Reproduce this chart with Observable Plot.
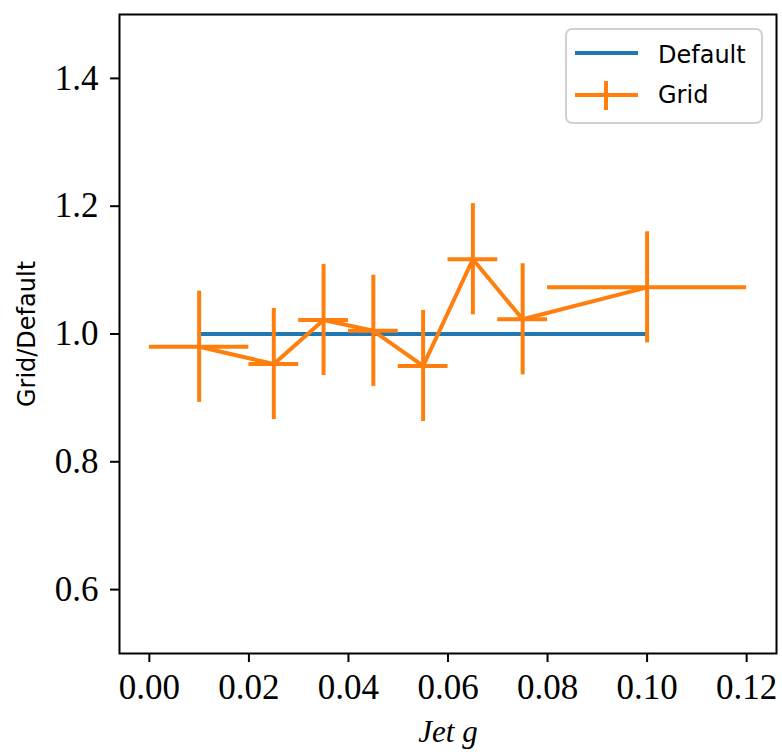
<!DOCTYPE html>
<html><head><meta charset="utf-8">
<script src="https://cdn.jsdelivr.net/npm/d3@7"></script>
<script src="https://cdn.jsdelivr.net/npm/@observablehq/plot@0.6"></script>
<style>
body{margin:0;background:#fff}
#chart{position:relative;width:782px;height:754px}
</style>
</head><body><div id="chart"></div>
<script>
// Grid / Default ratio vs Jet g
const gridX    = [0.01, 0.025, 0.035, 0.045, 0.055, 0.065, 0.075, 0.10];
const gridY    = [0.980, 0.953, 1.022, 1.005, 0.950, 1.117, 1.023, 1.073];
const gridXLo  = [0.00, 0.02, 0.03, 0.04, 0.05, 0.06, 0.07, 0.08];
const gridXHi  = [0.02, 0.03, 0.04, 0.05, 0.06, 0.07, 0.08, 0.12];
const gridYErr = [0.087, 0.087, 0.087, 0.087, 0.087, 0.087, 0.087, 0.087];
const defaultX = [0.01, 0.10];
const defaultY = [1.0, 1.0];
const xTicks = [0.00, 0.02, 0.04, 0.06, 0.08, 0.10, 0.12];
const yTicks = [0.6, 0.8, 1.0, 1.2, 1.4];
const seriesNames = ["Default", "Grid"];
const seriesColors = ["#1f77b4", "#ff7f0e"];

const grid = gridX.map((x, i) => ({x, y: gridY[i], x1: gridXLo[i], x2: gridXHi[i], y1: gridY[i] - gridYErr[i], y2: gridY[i] + gridYErr[i]}));
const def = defaultX.map((x, i) => ({x, y: defaultY[i]}));

const SERIF = "'Liberation Serif', 'Times New Roman', serif";
const SANS = "'DejaVu Sans', sans-serif";
const LW = 4;

const plot = Plot.plot({
  width: 782, height: 754,
  marginLeft: 119, marginRight: 6, marginTop: 14, marginBottom: 101,
  style: {fontFamily: SERIF, fontSize: "35px", color: "black", background: "white"},
  x: {domain: [-0.006, 0.126]},
  y: {domain: [0.5, 1.5]},
  marks: [
    Plot.axisX({ticks: xTicks, tickFormat: d => d.toFixed(2), tickSize: 9, tickPadding: 12, label: null, strokeWidth: 2}),
    Plot.axisY({ticks: yTicks, tickFormat: d => d.toFixed(1), tickSize: 9, tickPadding: 12, label: null, strokeWidth: 2}),
    Plot.line(def, {x: "x", y: "y", stroke: seriesColors[0], strokeWidth: LW}),
    Plot.line(grid, {x: "x", y: "y", stroke: seriesColors[1], strokeWidth: LW}),
    Plot.ruleX(grid, {x: "x", y1: "y1", y2: "y2", stroke: seriesColors[1], strokeWidth: LW}),
    Plot.ruleY(grid, {y: "y", x1: "x1", x2: "x2", stroke: seriesColors[1], strokeWidth: LW}),
    Plot.frame({stroke: "black", strokeWidth: 2}),
    Plot.text(["Jet g"], {frameAnchor: "bottom", dy: 88, fontStyle: "italic", fontFamily: SERIF, fontSize: 31, fill: "black"}),
    Plot.text(["Grid/Default"], {frameAnchor: "left", textAnchor: "middle", rotate: -90, dx: -92, fontFamily: SANS, fontSize: 24, fill: "black"})
  ]
});
document.getElementById("chart").appendChild(plot);

// legend (upper right)
const svg = d3.select(plot);
const lg = svg.append("g").attr("font-family", SANS).attr("font-size", 24).attr("text-anchor", "start");
lg.append("rect").attr("x", 566).attr("y", 29).attr("width", 196).attr("height", 94)
  .attr("rx", 6).attr("fill", "white").attr("fill-opacity", 0.8).attr("stroke", "#d0d0d0").attr("stroke-width", 2);
lg.append("line").attr("x1", 575).attr("x2", 638).attr("y1", 53).attr("y2", 53).attr("stroke", seriesColors[0]).attr("stroke-width", LW);
lg.append("text").attr("x", 658).attr("y", 63).attr("fill", "black").text(seriesNames[0]);
lg.append("line").attr("x1", 575).attr("x2", 638).attr("y1", 95).attr("y2", 95).attr("stroke", seriesColors[1]).attr("stroke-width", LW);
lg.append("line").attr("x1", 606).attr("x2", 606).attr("y1", 81).attr("y2", 110).attr("stroke", seriesColors[1]).attr("stroke-width", LW);
lg.append("text").attr("x", 658).attr("y", 103).attr("fill", "black").text(seriesNames[1]);
</script>
</body></html>
